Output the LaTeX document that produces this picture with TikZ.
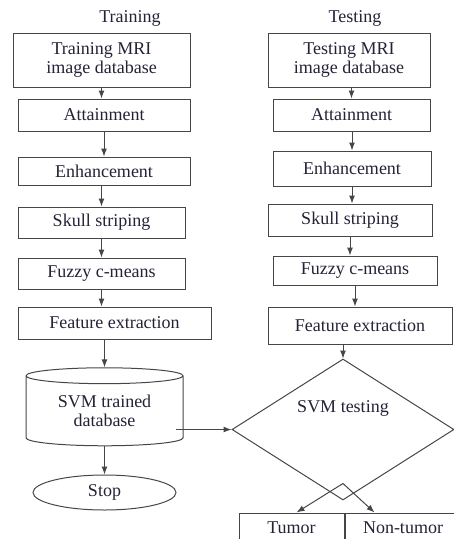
\documentclass[tikz,border=0pt]{standalone}
\usepackage{fontspec}
\setmainfont{Liberation Serif}
\usetikzlibrary{shapes.geometric,arrows.meta,calc}
\definecolor{ln}{RGB}{70,70,70}
\definecolor{txt}{RGB}{35,35,55}

\begin{document}
\begin{tikzpicture}[x=1pt, y=-1pt,
  font=\fontsize{18}{19}\selectfont,
  every node/.style={text=txt},
  box/.style={draw=ln, line width=1pt, inner sep=0pt},
  db/.style={box, align=center, cylinder, shape border rotate=90, aspect=0.17,
    minimum width=157, minimum height=78},
  flow/.style={draw=ln, line width=1pt, -{Latex[length=8pt,width=6pt]}}]
  \path[use as bounding box, clip] (0,0) rectangle (454,539);

  \node (train) at (130,18) {Training};
  \node (test) at (355,18) {Testing};

  \node[box, align=center, minimum width=177, minimum height=54] (tr0) at (101.5,60) {Training MRI\\image database};
  \node[box, minimum width=172, minimum height=32] (tr1) at (104,115) {Attainment};
  \node[box, minimum width=172, minimum height=28] (tr2) at (104,171) {Enhancement};
  \node[box, minimum width=167, minimum height=31] (tr3) at (101.5,222.5) {Skull striping};
  \node[box, minimum width=167, minimum height=31] (tr4) at (101.5,273.5) {Fuzzy c-means};
  \node[box, minimum width=193, minimum height=32] (tr5) at (114.5,323) {Feature extraction};
  \node[db] (svmdb) at (104.5,411) {SVM trained\\database};
  \node[box, ellipse, minimum width=143, minimum height=35] (stop) at (104.5,492.5) {Stop};

  \node[box, align=center, minimum width=162, minimum height=54] (te0) at (349,60) {Testing MRI\\image database};
  \node[box, minimum width=157, minimum height=32] (te1) at (351.5,115) {Attainment};
  \node[box, minimum width=158, minimum height=35] (te2) at (352,168.5) {Enhancement};
  \node[box, minimum width=164, minimum height=32] (te3) at (350,220) {Skull striping};
  \node[box, minimum width=164, minimum height=29] (te4) at (355,270.5) {Fuzzy c-means};
  \node[box, minimum width=184, minimum height=37] (te5) at (360,325.5) {Feature extraction};
  \node[box, diamond, minimum width=222, minimum height=141] (svmtest) at (343,429.5) {\raisebox{17pt}[0pt][0pt]{SVM testing}};
  \node[box, minimum width=105, minimum height=30] (tumor) at (291.5,528) {Tumor};
  \node[box, minimum width=116, minimum height=30, anchor=west] (nontumor) at (tumor.east) {Non-tumor};
  \coordinate (split) at ($(svmtest.south)+(0,-17)$);

  \draw[flow] (tr0.south) -- (tr0.south |- tr1.north);
  \draw[flow] (tr1.south) -- (tr1.south |- tr2.north);
  \draw[flow] (tr3.north |- tr2.south) -- (tr3.north);
  \draw[flow] (tr3.south) -- (tr3.south |- tr4.north);
  \draw[flow] (tr4.south) -- (tr4.south |- tr5.north);
  \draw[flow] (svmdb.north |- tr5.south) -- (svmdb.north);
  \draw[flow] (svmdb.south) -- (stop.north);

  \draw[flow] (te1.north |- te0.south) -- (te1.north);
  \draw[flow] (te2.north |- te1.south) -- (te2.north);
  \draw[flow] (te2.south) -- (te2.south |- te3.north);
  \draw[flow] (te3.south) -- (te3.south |- te4.north);
  \draw[flow] (te4.south) -- (te4.south |- te5.north);
  \draw[flow] (svmtest.north |- te5.south) -- (svmtest.north);

  \draw[flow] ($(svmdb.east |- svmtest.west)+(-8,0)$) -- (svmtest.west);
  \draw[flow] (split) -- ($(tumor.north)+(5,0)$);
  \draw[flow] (split) -- ($(nontumor.north west)+(30,0)$);
\end{tikzpicture}
\end{document}
